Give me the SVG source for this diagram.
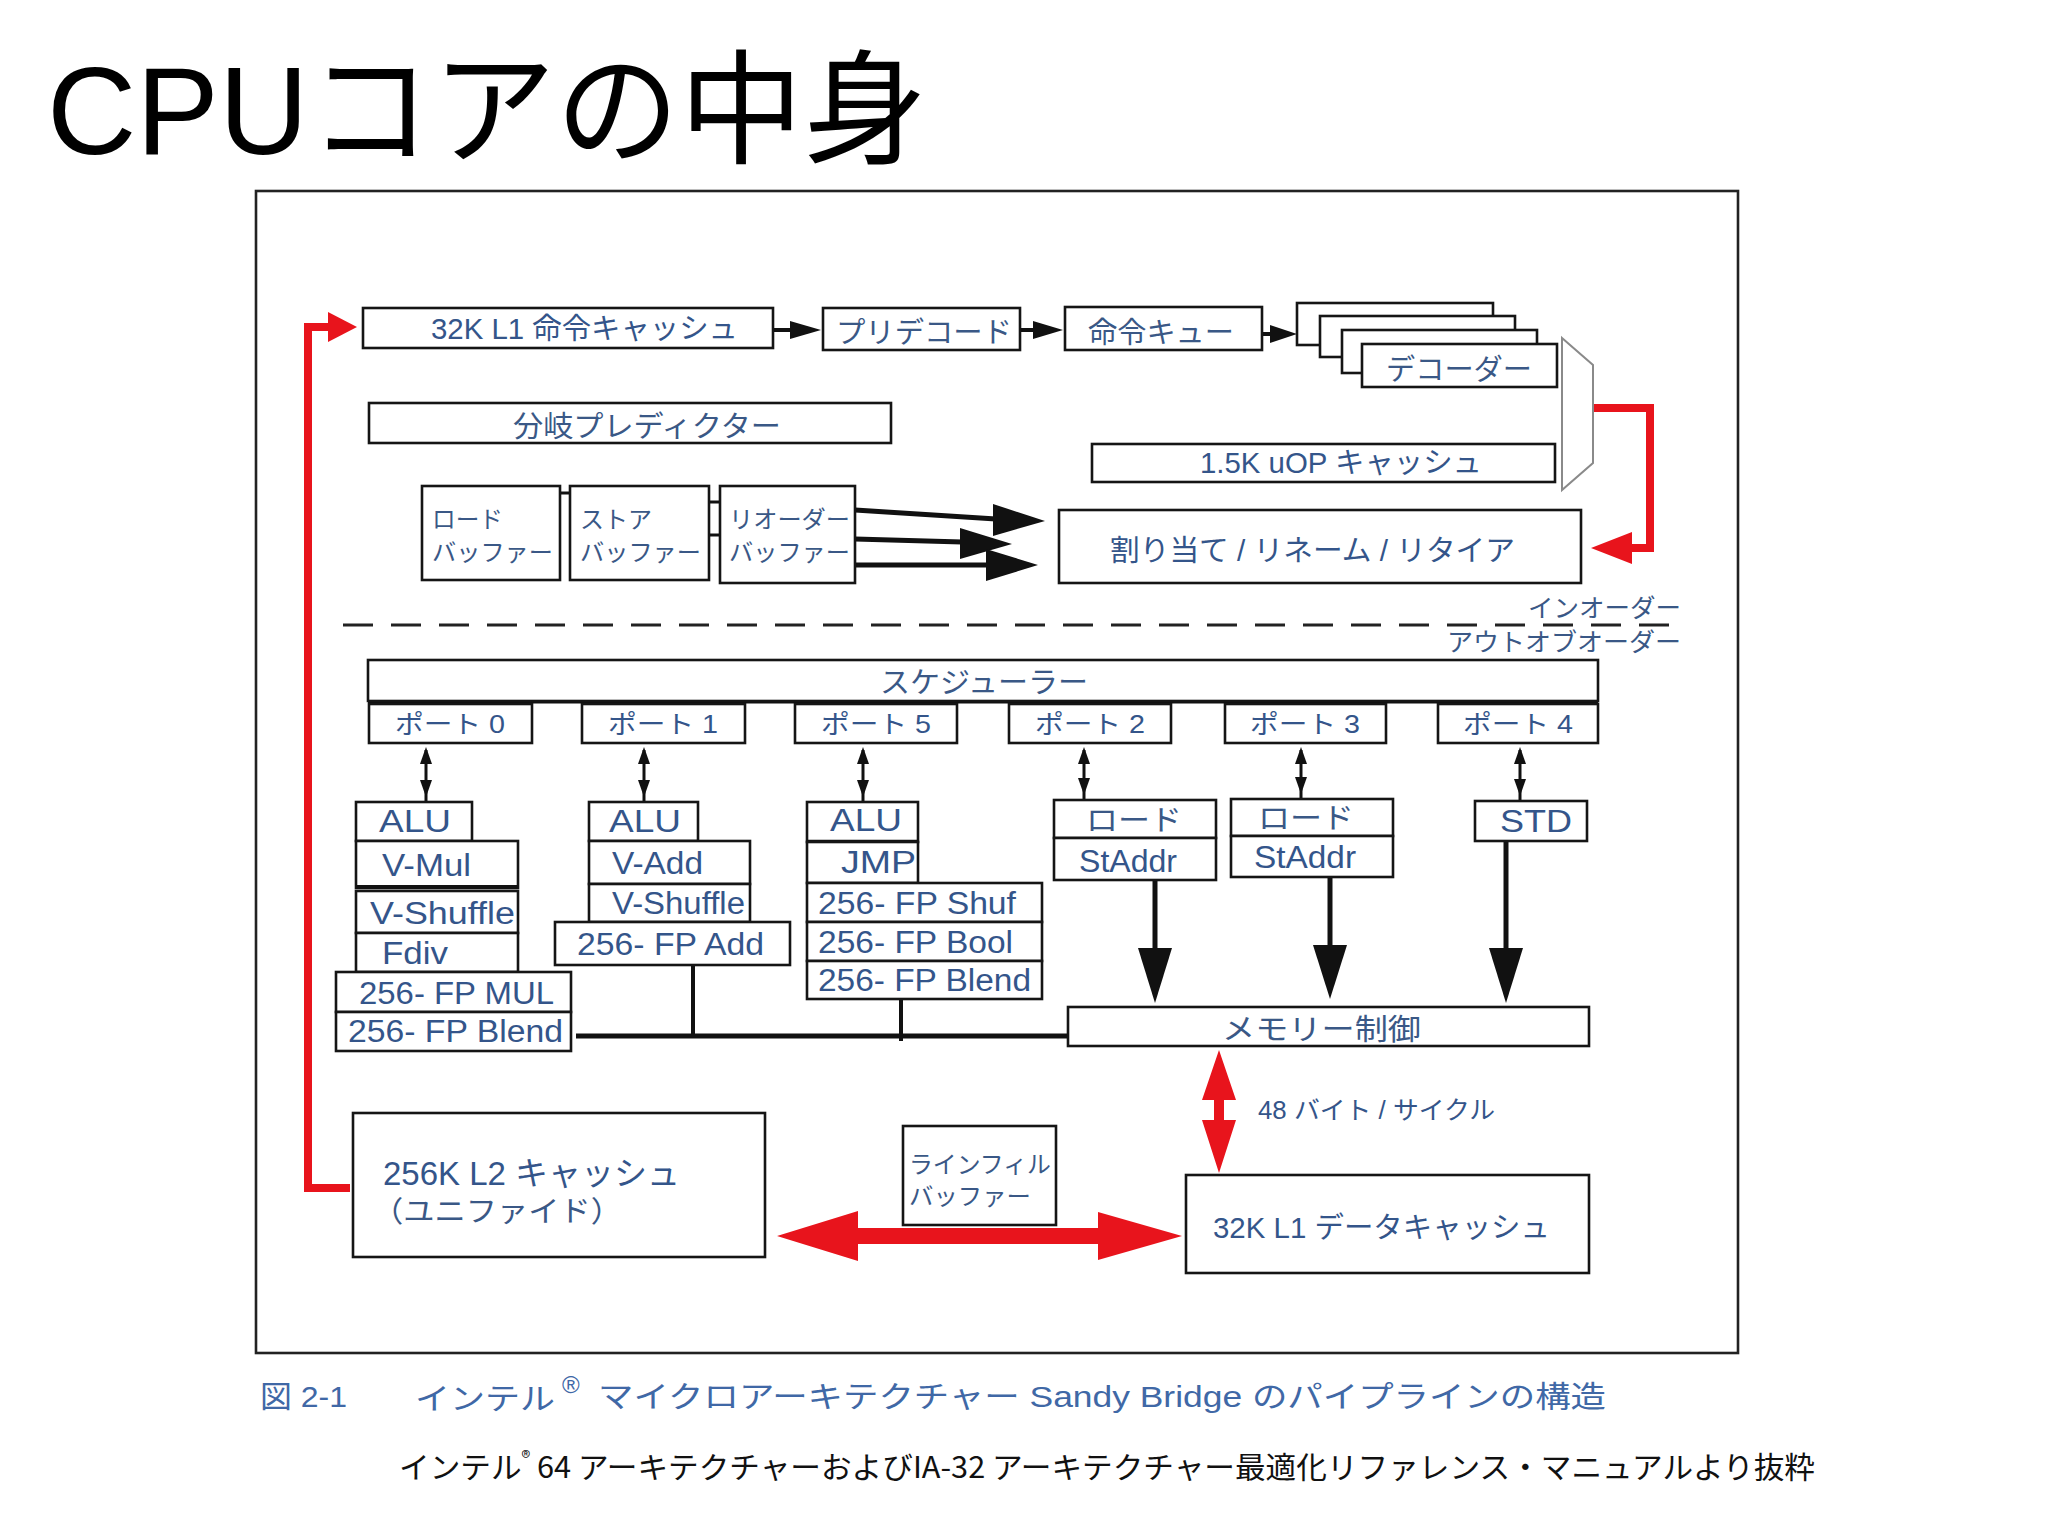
<svg xmlns="http://www.w3.org/2000/svg" width="2048" height="1536" viewBox="0 0 2048 1536">
<style>
.bx{fill:#fff;stroke:#151515;stroke-width:2.6}
.t{font-family:"Liberation Sans","Noto Sans CJK JP",sans-serif;fill:#34558a;dominant-baseline:central}
.j{font-family:"Noto Sans CJK JP",sans-serif;fill:#3a5886;dominant-baseline:central}
.u{font-size:31px}
.m{font-size:29px}
.s{font-size:24px}
.p{font-size:25px}
.ln{stroke:#111;fill:none}
.red{fill:none;stroke:#e8141c;stroke-width:8}
.rf{fill:#e8141c}
.bk{fill:#111}
</style>
<rect width="2048" height="1536" fill="#fff"/>
<text x="47" y="154" font-family="Liberation Sans,Noto Sans CJK JP,sans-serif" font-size="124" fill="#000" textLength="880" lengthAdjust="spacingAndGlyphs">CPUコアの中身</text>
<rect id="frame" x="256" y="191" width="1482" height="1162" fill="none" stroke="#222" stroke-width="2.6"/>

<g id="connectors">
  <line class="ln" x1="773" y1="330" x2="792" y2="330" stroke-width="4"/>
  <polygon class="bk" points="821,330 790,321 790,339"/>
  <line class="ln" x1="1020" y1="330" x2="1036" y2="330" stroke-width="4"/>
  <polygon class="bk" points="1063,330 1033,321 1033,339"/>
  <line class="ln" x1="1262" y1="334" x2="1275" y2="334" stroke-width="4"/>
  <polygon class="bk" points="1297,334 1270,325 1270,343"/>
  <line class="ln" x1="560" y1="493" x2="570" y2="493" stroke-width="3"/>
  <line class="ln" x1="709" y1="502" x2="720" y2="502" stroke-width="3"/>
  <line class="ln" x1="709" y1="535" x2="720" y2="535" stroke-width="3"/>
  <line class="ln" x1="855" y1="510" x2="996" y2="519" stroke-width="5"/>
  <polygon class="bk" points="1045,521 993,504 993,536"/>
  <line class="ln" x1="855" y1="539" x2="962" y2="542" stroke-width="5"/>
  <polygon class="bk" points="1012,544 960,528 960,559"/>
  <line class="ln" x1="855" y1="565" x2="988" y2="565" stroke-width="5"/>
  <polygon class="bk" points="1038,565 986,549 986,581"/>
  <line x1="343" y1="625" x2="1680" y2="625" stroke="#222" stroke-width="3" stroke-dasharray="30 18"/>
  <line x1="368" y1="701" x2="1598" y2="701" stroke="#111" stroke-width="5"/>
  <g id="portarrows">
    <g transform="translate(426,0)"><line class="ln" x1="0" y1="750" x2="0" y2="802" stroke-width="3"/><polygon class="bk" points="0,747 -6,764 6,764"/><polygon class="bk" points="0,797 -6,780 6,780"/></g>
    <g transform="translate(644,0)"><line class="ln" x1="0" y1="750" x2="0" y2="802" stroke-width="3"/><polygon class="bk" points="0,747 -6,764 6,764"/><polygon class="bk" points="0,797 -6,780 6,780"/></g>
    <g transform="translate(863,0)"><line class="ln" x1="0" y1="750" x2="0" y2="802" stroke-width="3"/><polygon class="bk" points="0,747 -6,764 6,764"/><polygon class="bk" points="0,797 -6,780 6,780"/></g>
    <g transform="translate(1084,0)"><line class="ln" x1="0" y1="750" x2="0" y2="800" stroke-width="3"/><polygon class="bk" points="0,747 -6,764 6,764"/><polygon class="bk" points="0,795 -6,778 6,778"/></g>
    <g transform="translate(1301,0)"><line class="ln" x1="0" y1="750" x2="0" y2="799" stroke-width="3"/><polygon class="bk" points="0,747 -6,764 6,764"/><polygon class="bk" points="0,794 -6,777 6,777"/></g>
    <g transform="translate(1520,0)"><line class="ln" x1="0" y1="750" x2="0" y2="801" stroke-width="3"/><polygon class="bk" points="0,747 -6,764 6,764"/><polygon class="bk" points="0,796 -6,779 6,779"/></g>
  </g>
  <line class="ln" x1="1155" y1="880" x2="1155" y2="952" stroke-width="5"/>
  <polygon class="bk" points="1155,1003 1138,948 1172,948"/>
  <line class="ln" x1="1330" y1="877" x2="1330" y2="948" stroke-width="5"/>
  <polygon class="bk" points="1330,999 1313,945 1347,945"/>
  <line class="ln" x1="1506" y1="841" x2="1506" y2="952" stroke-width="5"/>
  <polygon class="bk" points="1506,1003 1489,948 1523,948"/>
  <line class="ln" x1="576" y1="1036" x2="1068" y2="1036" stroke-width="5"/>
  <line class="ln" x1="693" y1="965" x2="693" y2="1036" stroke-width="4"/>
  <line class="ln" x1="901" y1="999" x2="901" y2="1041" stroke-width="4"/>
  <path class="red" d="M350 1188 H308 V327 H332"/>
  <polygon class="rf" points="357,327 328,312 328,342"/>
  <path class="red" d="M1588 408 H1650 V548 H1626"/>
  <polygon class="rf" points="1591,548 1632,532 1632,564"/>
  <polygon class="rf" points="1219,1050 1236,1100 1224,1100 1224,1120 1236,1120 1219,1173 1202,1120 1214,1120 1214,1100 1202,1100"/>
  <polygon class="rf" points="777,1236 858,1211 858,1228 1098,1228 1098,1212 1182,1236 1098,1260 1098,1244 858,1244 858,1261"/>
</g>

<g id="l1i"><rect class="bx" x="363" y="308" width="410" height="40"/><text class="t m" x="431" y="329" textLength="307" lengthAdjust="spacingAndGlyphs">32K L1 命令キャッシュ</text></g>
<g id="predecode"><rect class="bx" x="823" y="308" width="197" height="42"/><text class="j m" x="836" y="330" textLength="176" lengthAdjust="spacingAndGlyphs">プリデコード</text></g>
<g id="iqueue"><rect class="bx" x="1065" y="307" width="197" height="43"/><text class="j m" x="1088" y="330" textLength="146" lengthAdjust="spacingAndGlyphs">命令キュー</text></g>
<g id="decoders">
  <rect class="bx" x="1297" y="303" width="196" height="42"/>
  <rect class="bx" x="1320" y="316" width="195" height="41"/>
  <rect class="bx" x="1342" y="330" width="195" height="43"/>
  <rect class="bx" x="1362" y="344" width="195" height="43"/>
  <text class="j m" x="1386" y="367" textLength="146" lengthAdjust="spacingAndGlyphs">デコーダー</text>
</g>
<g id="mux"><polygon points="1562,338 1593,365 1593,463 1562,490" fill="#fff" stroke="#8a8a8a" stroke-width="2"/></g>
<g id="bpred"><rect class="bx" x="369" y="403" width="522" height="40"/><text class="j m" x="513" y="424" textLength="268" lengthAdjust="spacingAndGlyphs">分岐プレディクター</text></g>
<g id="uopcache"><rect class="bx" x="1092" y="444" width="463" height="38"/><text class="t m" x="1200" y="463" textLength="282" lengthAdjust="spacingAndGlyphs">1.5K uOP キャッシュ</text></g>
<g id="loadbuf"><rect class="bx" x="422" y="486" width="138" height="94"/><text class="j s" x="432" y="517" textLength="71" lengthAdjust="spacingAndGlyphs">ロード</text><text class="j s" x="432" y="550" textLength="121" lengthAdjust="spacingAndGlyphs">バッファー</text></g>
<g id="storebuf"><rect class="bx" x="570" y="486" width="139" height="94"/><text class="j s" x="580" y="517" textLength="72" lengthAdjust="spacingAndGlyphs">ストア</text><text class="j s" x="580" y="550" textLength="121" lengthAdjust="spacingAndGlyphs">バッファー</text></g>
<g id="reorderbuf"><rect class="bx" x="720" y="486" width="135" height="97"/><text class="j s" x="729" y="517" textLength="121" lengthAdjust="spacingAndGlyphs">リオーダー</text><text class="j s" x="729" y="550" textLength="121" lengthAdjust="spacingAndGlyphs">バッファー</text></g>
<g id="alloc"><rect class="bx" x="1059" y="510" width="522" height="73"/><text class="t m" x="1110" y="551" textLength="405" lengthAdjust="spacingAndGlyphs">割り当て / リネーム / リタイア</text></g>
<g id="orderlabels">
  <text class="j p" x="1681" y="606" text-anchor="end" textLength="153" lengthAdjust="spacingAndGlyphs">インオーダー</text>
  <text class="j p" x="1681" y="640" text-anchor="end" textLength="234" lengthAdjust="spacingAndGlyphs">アウトオブオーダー</text>
</g>
<g id="scheduler"><rect class="bx" x="368" y="660" width="1230" height="41"/><text class="j m" x="880" y="680" textLength="208" lengthAdjust="spacingAndGlyphs">スケジューラー</text></g>
<g id="port0"><rect class="bx" x="369" y="704" width="163" height="39"/><text class="t p" x="395" y="724" textLength="110" lengthAdjust="spacingAndGlyphs">ポート 0</text></g>
<g id="port1"><rect class="bx" x="582" y="704" width="163" height="39"/><text class="t p" x="608" y="724" textLength="110" lengthAdjust="spacingAndGlyphs">ポート 1</text></g>
<g id="port5"><rect class="bx" x="795" y="704" width="162" height="39"/><text class="t p" x="821" y="724" textLength="110" lengthAdjust="spacingAndGlyphs">ポート 5</text></g>
<g id="port2"><rect class="bx" x="1009" y="704" width="162" height="39"/><text class="t p" x="1035" y="724" textLength="110" lengthAdjust="spacingAndGlyphs">ポート 2</text></g>
<g id="port3"><rect class="bx" x="1225" y="704" width="161" height="39"/><text class="t p" x="1250" y="724" textLength="110" lengthAdjust="spacingAndGlyphs">ポート 3</text></g>
<g id="port4"><rect class="bx" x="1438" y="704" width="160" height="39"/><text class="t p" x="1463" y="724" textLength="110" lengthAdjust="spacingAndGlyphs">ポート 4</text></g>

<g id="p0units">
  <rect class="bx" x="356" y="802" width="116" height="39"/><text class="t u" x="379" y="821" textLength="72" lengthAdjust="spacingAndGlyphs">ALU</text>
  <rect class="bx" x="356" y="841" width="162" height="47"/><text class="t u" x="382" y="865" textLength="89" lengthAdjust="spacingAndGlyphs">V-Mul</text>
  <line class="ln" x1="356" y1="887" x2="518" y2="887" stroke-width="4"/>
  <rect class="bx" x="356" y="891" width="162" height="42"/><text class="t u" x="370" y="913" textLength="145" lengthAdjust="spacingAndGlyphs">V-Shuffle</text>
  <rect class="bx" x="356" y="933" width="162" height="39"/><text class="t u" x="382" y="953" textLength="66" lengthAdjust="spacingAndGlyphs">Fdiv</text>
  <rect class="bx" x="336" y="972" width="235" height="40"/><text class="t u" x="359" y="993" textLength="195" lengthAdjust="spacingAndGlyphs">256- FP MUL</text>
  <rect class="bx" x="336" y="1012" width="235" height="39"/><text class="t u" x="348" y="1031" textLength="215" lengthAdjust="spacingAndGlyphs">256- FP Blend</text>
</g>
<g id="p1units">
  <rect class="bx" x="589" y="802" width="109" height="39"/><text class="t u" x="609" y="821" textLength="72" lengthAdjust="spacingAndGlyphs">ALU</text>
  <rect class="bx" x="589" y="841" width="161" height="43"/><text class="t u" x="612" y="863" textLength="91" lengthAdjust="spacingAndGlyphs">V-Add</text>
  <rect class="bx" x="589" y="884" width="161" height="38"/><text class="t u" x="612" y="903" textLength="133" lengthAdjust="spacingAndGlyphs">V-Shuffle</text>
  <rect class="bx" x="555" y="922" width="235" height="43"/><text class="t u" x="577" y="944" textLength="187" lengthAdjust="spacingAndGlyphs">256- FP Add</text>
</g>
<g id="p5units">
  <rect class="bx" x="807" y="802" width="111" height="40"/><text class="t u" x="830" y="820" textLength="72" lengthAdjust="spacingAndGlyphs">ALU</text>
  <line class="ln" x1="807" y1="842" x2="918" y2="842" stroke-width="4.5"/>
  <rect class="bx" x="807" y="842" width="111" height="41"/><text class="t u" x="841" y="862" textLength="75" lengthAdjust="spacingAndGlyphs">JMP</text>
  <rect class="bx" x="807" y="883" width="235" height="39"/><text class="t u" x="818" y="903" textLength="198" lengthAdjust="spacingAndGlyphs">256- FP Shuf</text>
  <rect class="bx" x="807" y="922" width="235" height="39"/><text class="t u" x="818" y="942" textLength="195" lengthAdjust="spacingAndGlyphs">256- FP Bool</text>
  <rect class="bx" x="807" y="961" width="235" height="38"/><text class="t u" x="818" y="980" textLength="213" lengthAdjust="spacingAndGlyphs">256- FP Blend</text>
</g>
<g id="p2units">
  <rect class="bx" x="1054" y="800" width="162" height="38"/><text class="j m" x="1086" y="818" textLength="96" lengthAdjust="spacingAndGlyphs">ロード</text>
  <rect class="bx" x="1054" y="838" width="162" height="42"/><text class="t u" x="1079" y="861" textLength="98" lengthAdjust="spacingAndGlyphs">StAddr</text>
</g>
<g id="p3units">
  <rect class="bx" x="1231" y="799" width="162" height="37"/><text class="j m" x="1258" y="816" textLength="96" lengthAdjust="spacingAndGlyphs">ロード</text>
  <rect class="bx" x="1231" y="836" width="162" height="41"/><text class="t u" x="1254" y="857" textLength="102" lengthAdjust="spacingAndGlyphs">StAddr</text>
</g>
<g id="p4units"><rect class="bx" x="1475" y="801" width="112" height="40"/><text class="t u" x="1500" y="821" textLength="72" lengthAdjust="spacingAndGlyphs">STD</text></g>
<g id="memctrl"><rect class="bx" x="1068" y="1007" width="521" height="39"/><text class="j m" x="1222" y="1027" textLength="199" lengthAdjust="spacingAndGlyphs">メモリー制御</text></g>
<g id="bw"><text class="t p" x="1258" y="1110" textLength="237" lengthAdjust="spacingAndGlyphs">48 バイト / サイクル</text></g>
<g id="l2"><rect class="bx" x="353" y="1113" width="412" height="144"/><text class="t" font-size="33" x="383" y="1173" textLength="297" lengthAdjust="spacingAndGlyphs">256K L2 キャッシュ</text><text class="j" font-size="29" x="372" y="1209" textLength="250" lengthAdjust="spacingAndGlyphs">（ユニファイド）</text></g>
<g id="linefill"><rect class="bx" x="903" y="1126" width="153" height="99"/><text class="j s" x="909" y="1162" textLength="142" lengthAdjust="spacingAndGlyphs">ラインフィル</text><text class="j s" x="909" y="1194" textLength="122" lengthAdjust="spacingAndGlyphs">バッファー</text></g>
<g id="l1d"><rect class="bx" x="1186" y="1175" width="403" height="98"/><text class="t m" x="1213" y="1228" textLength="337" lengthAdjust="spacingAndGlyphs">32K L1 データキャッシュ</text></g>

<g id="caption">
  <text x="260" y="1396" font-family="Liberation Sans,Noto Sans CJK JP,sans-serif" font-size="30" fill="#4068a6" dominant-baseline="central" textLength="87" lengthAdjust="spacingAndGlyphs">図 2-1</text>
  <text x="415" y="1396" font-family="Noto Sans CJK JP,sans-serif" font-size="30" fill="#4068a6" dominant-baseline="central" textLength="140" lengthAdjust="spacingAndGlyphs">インテル</text>
  <text x="562" y="1384" font-family="Liberation Sans,sans-serif" font-size="24" fill="#4068a6" dominant-baseline="central">®</text>
  <text x="598" y="1396" font-family="Liberation Sans,Noto Sans CJK JP,sans-serif" font-size="30" fill="#4068a6" dominant-baseline="central" textLength="1008" lengthAdjust="spacingAndGlyphs">マイクロアーキテクチャー Sandy Bridge のパイプラインの構造</text>
</g>
<text x="399" y="1465" font-family="Noto Sans CJK JP,sans-serif" font-size="30" fill="#111" dominant-baseline="central" textLength="1416" lengthAdjust="spacingAndGlyphs">インテル<tspan font-size="18" dy="-9">®</tspan><tspan dy="9"> 64 アーキテクチャーおよびIA-32 アーキテクチャー最適化リファレンス・マニュアルより抜粋</tspan></text>
</svg>
